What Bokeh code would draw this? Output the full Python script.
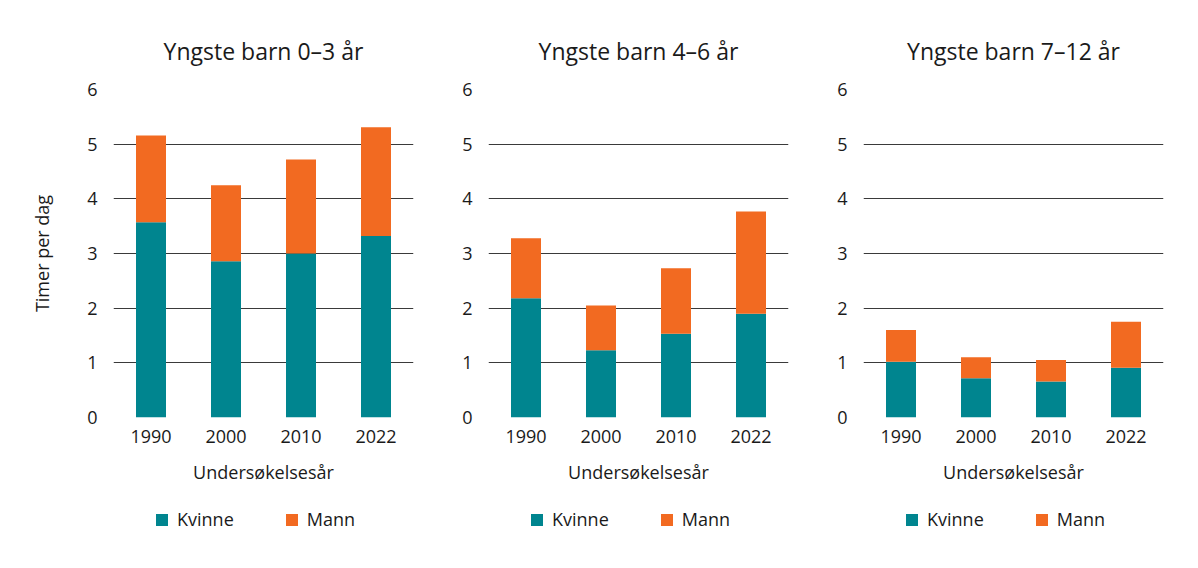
from bokeh.plotting import figure
from bokeh.layouts import row, column
from bokeh.models import ColumnDataSource, FactorRange, Range1d, Legend, LegendItem
from bokeh.embed import file_html
from bokeh.resources import INLINE

years = ["1990", "2000", "2010", "2022"]
titles = ["Yngste barn 0–3 år", "Yngste barn 4–6 år", "Yngste barn 7–12 år"]
series = ["Kvinne", "Mann"]
kvinne_0_3 = [3.57, 2.86, 3.00, 3.32]
mann_0_3 = [1.59, 1.39, 1.72, 1.99]
kvinne_4_6 = [2.18, 1.23, 1.53, 1.90]
mann_4_6 = [1.10, 0.82, 1.20, 1.87]
kvinne_7_12 = [1.02, 0.72, 0.66, 0.91]
mann_7_12 = [0.58, 0.38, 0.39, 0.84]
y_ticks = [0, 1, 2, 3, 4, 5, 6]
x_label = "Undersøkelsesår"
y_label = "Timer per dag"

colors = ["#00858F", "#F26A21"]
FONT = "Open Sans"
panels = [(kvinne_0_3, mann_0_3), (kvinne_4_6, mann_4_6), (kvinne_7_12, mann_7_12)]
borders = [(113, 7), (68, 7), (68, 20)]

figs = []
legs = []
for i, ((kv, mn), title, (bl, br)) in enumerate(zip(panels, titles, borders)):
    src = ColumnDataSource(dict(year=years, Kvinne=kv, Mann=mn))
    p = figure(x_range=FactorRange(*years, range_padding=0), y_range=Range1d(0, 6),
               frame_width=300, frame_height=328, min_border_left=bl, min_border_right=br,
               min_border_top=89, min_border_bottom=80,
               output_backend="svg", toolbar_location=None, tools="")
    rs = p.vbar_stack(series, x="year", width=0.4, color=colors, line_color=None, source=src)
    p.outline_line_color = None
    p.title.text = title
    p.title.align = "center"
    p.title.text_font = FONT
    p.title.text_font_size = "23px"
    p.title.text_font_style = "normal"
    p.title.text_color = "#1a1a1a"
    p.title.standoff = 45
    p.xgrid.grid_line_color = None
    p.ygrid.grid_line_color = "#3a3a3a"
    p.ygrid.grid_line_width = 1
    p.yaxis.ticker = y_ticks
    for ax in (p.xaxis[0], p.yaxis[0]):
        ax.axis_line_color = None
        ax.major_tick_line_color = None
        ax.minor_tick_line_color = None
        ax.major_label_text_font = FONT
        ax.major_label_text_font_size = "18px"
        ax.major_label_text_color = "#1a1a1a"
        ax.axis_label_text_font = FONT
        ax.axis_label_text_font_size = "18px"
        ax.axis_label_text_font_style = "normal"
        ax.axis_label_text_color = "#1a1a1a"
    p.yaxis.major_label_standoff = 10
    p.xaxis.major_label_standoff = 6
    p.xaxis.axis_label = x_label
    p.xaxis.axis_label_standoff = 14
    if i == 0:
        p.yaxis.axis_label = y_label
        p.yaxis.axis_label_standoff = 30
    figs.append(p)

    # legend strip under each panel
    lf = figure(x_range=Range1d(0, 1), y_range=Range1d(0, 1), x_axis_type=None, y_axis_type=None,
                frame_width=300, frame_height=60, min_border_left=bl, min_border_right=br,
                min_border_top=0, min_border_bottom=0,
                output_backend="svg", toolbar_location=None, tools="")
    lf.outline_line_color = None
    lf.xgrid.visible = False
    lf.ygrid.visible = False
    dummy = ColumnDataSource(dict(x=[-10.0], top=[-10.0]))
    lrs = [lf.vbar(x="x", top="top", bottom=-11.0, width=0.1, color=c, line_color=None, source=dummy)
           for c in colors]
    legend = Legend(items=[LegendItem(label=s, renderers=[r]) for s, r in zip(series, lrs)],
                    orientation="horizontal", location=(41, 26),
                    label_text_font=FONT, label_text_font_size="18px", label_text_color="#1a1a1a",
                    glyph_width=15, glyph_height=15, spacing=50, label_standoff=8,
                    border_line_color=None, background_fill_alpha=0, margin=0, padding=0)
    lf.add_layout(legend, "center")
    legs.append(lf)

layout = column(row(*figs, spacing=0), row(*legs, spacing=0), spacing=0)
open("out.html", "w").write(file_html(layout, INLINE))
